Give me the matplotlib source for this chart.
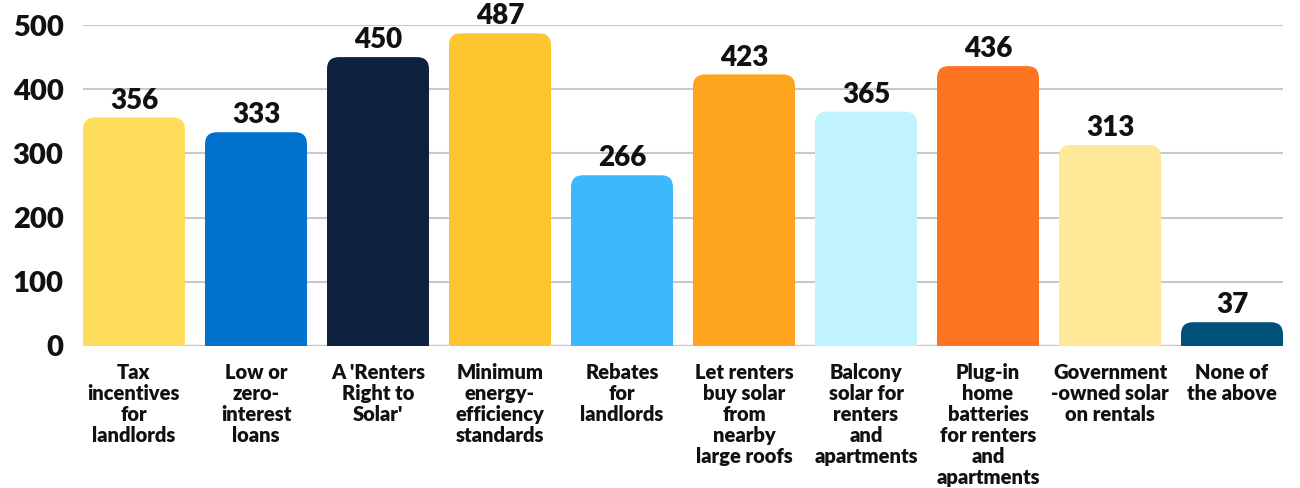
import numpy as np
import matplotlib.pyplot as plt
from matplotlib.patches import FancyBboxPatch

# survey answers
categories = ["Tax\nincentives\nfor\nlandlords", "Low or\nzero-\ninterest\nloans",
              "A 'Renters\nRight to\nSolar'", "Minimum\nenergy-\nefficiency\nstandards",
              "Rebates\nfor\nlandlords", "Let renters\nbuy solar\nfrom\nnearby\nlarge roofs",
              "Balcony\nsolar for\nrenters\nand\napartments",
              "Plug-in\nhome\nbatteries\nfor renters\nand\napartments",
              "Government\n-owned solar\non rentals", "None of\nthe above"]
values = [356, 333, 450, 487, 266, 423, 365, 436, 313, 37]
colors = ["#FFDD5A", "#0072CE", "#0E2240", "#FFC530", "#3DB8FF",
          "#FFA41E", "#C0F3FD", "#FF7422", "#FFE999", "#005179"]
yticks = [0, 100, 200, 300, 400, 500]

plt.rcParams['font.family'] = ['Lato', 'DejaVu Sans']

fig = plt.figure(figsize=(13, 4.88), dpi=100)
ax = fig.add_axes([83/1300, 1-346/488, 1200/1300, 321/488])

x = np.arange(len(values))
w = 0.836
ax.set_xlim(-w/2, len(values)-1+w/2)
ax.set_ylim(0, 500)

bars = ax.bar(x, values, width=w, color=colors, zorder=2)

# rounded tops: replace each bar by a rounded box that reaches below zero
px_x = 1200 / (len(values)-1+w)
px_y = 321 / 500
r = 12
for b in bars:
    b.set_visible(False)
    x0, h = b.get_x(), b.get_height()
    ry = r / px_y
    patch = FancyBboxPatch((x0, -ry), w, h + ry,
                           boxstyle="round,pad=0,rounding_size=%f" % (r/px_x),
                           mutation_aspect=px_x/px_y,
                           facecolor=b.get_facecolor(), edgecolor='none', zorder=2)
    ax.add_patch(patch)
    ax.text(b.get_x()+w/2, h + 6, str(h), ha='center', va='bottom',
            fontsize=20, fontweight='heavy', color='#111111', clip_on=False)

ax.set_yticks(yticks)
ax.set_yticklabels([str(t) for t in yticks], fontsize=21, fontweight='heavy', color='#111111')
ax.grid(axis='y', color='#C8C8C8', linewidth=1.5, zorder=0)
ax.axhline(0, color='#777777', linewidth=1.5, zorder=1)
ax.tick_params(axis='y', length=0, pad=14)

ax.set_xticks(x)
ax.set_xticklabels(categories, fontsize=14.5, fontweight='heavy', color='#111111',
                   linespacing=1.13, va='top')
ax.tick_params(axis='x', length=0, pad=12)

for s in ax.spines.values():
    s.set_visible(False)

fig.savefig('out.png', dpi=100)
